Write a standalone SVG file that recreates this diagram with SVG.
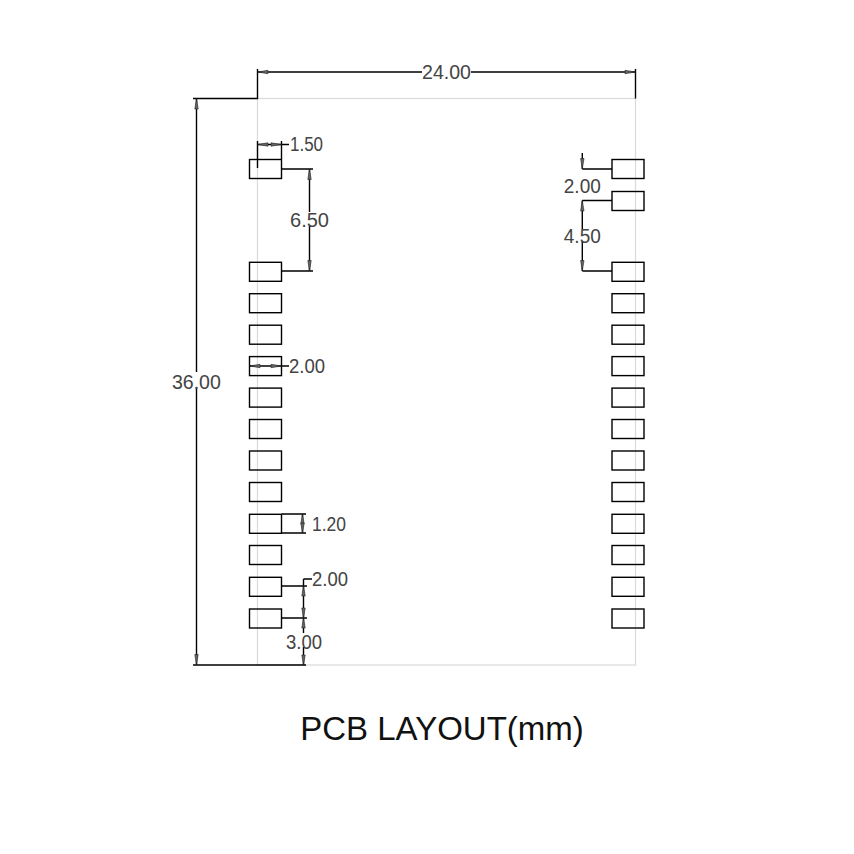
<svg xmlns="http://www.w3.org/2000/svg" width="854" height="854" viewBox="0 0 854 854">
<style>
.o{fill:none;stroke:#d9d9d9;stroke-width:1.2}
.p{fill:none;stroke:#000;stroke-width:1.4}
.l{fill:none;stroke:#000;stroke-width:1.4}
.h{fill:#666;stroke:#222;stroke-width:.6}
.d{font-family:"Liberation Sans",Arial,sans-serif;font-size:20px;fill:#444;text-anchor:middle}
.t{font-family:"Liberation Sans",Arial,sans-serif;font-size:33px;fill:#111;text-anchor:middle}
</style>
<defs>
<rect id="pad" width="32" height="19"/>
</defs>
<rect id="outline" class="o" x="257.5" y="98.5" width="378" height="566.5"/>
<g id="left-pads" class="p">
<use href="#pad" x="249.5" y="159.500"/>
<use href="#pad" x="249.5" y="262.300"/>
<use href="#pad" x="249.5" y="293.700"/>
<use href="#pad" x="249.5" y="325.200"/>
<use href="#pad" x="249.5" y="356.600"/>
<use href="#pad" x="249.5" y="388.100"/>
<use href="#pad" x="249.5" y="419.500"/>
<use href="#pad" x="249.5" y="451"/>
<use href="#pad" x="249.5" y="482.500"/>
<use href="#pad" x="249.5" y="514.300"/>
<use href="#pad" x="249.5" y="545.500"/>
<use href="#pad" x="249.5" y="577.300"/>
<use href="#pad" x="249.5" y="609"/>
</g>
<g id="right-pads" class="p">
<use href="#pad" x="612" y="159.500"/>
<use href="#pad" x="612" y="191.500"/>
<use href="#pad" x="612" y="262.300"/>
<use href="#pad" x="612" y="293.700"/>
<use href="#pad" x="612" y="325.200"/>
<use href="#pad" x="612" y="356.600"/>
<use href="#pad" x="612" y="388.100"/>
<use href="#pad" x="612" y="419.500"/>
<use href="#pad" x="612" y="451"/>
<use href="#pad" x="612" y="482.500"/>
<use href="#pad" x="612" y="514.300"/>
<use href="#pad" x="612" y="545.500"/>
<use href="#pad" x="612" y="577.300"/>
<use href="#pad" x="612" y="609"/>
</g>
<g id="connectors" class="l">
<path d="M257.500 69V98.500H193M635.500 69V98.500M193 665H306"/>
<path d="M257.500 72H422M471 72H635.500"/>
<path d="M196.500 98.500V372M196.500 387V665"/>
<path d="M257.500 141V168M281.500 141V159M257.500 144.500H289"/>
<path d="M281.500 169H313M281.500 271H313M309.500 169V212M309.500 226V271"/>
<path d="M582.300 153V169M582.300 169H612M582.300 200.500H612M582.300 271H612M582.300 200.500V229M582.300 241V271"/>
<path d="M249.500 366H289"/>
<path d="M281.500 514H306M281.500 533H306M302.500 514V533"/>
<path d="M281.500 586H307M281.500 618H307M303.500 579H312M303.500 579V633M303.500 647V665"/>
</g>
<g id="arrowheads" class="h">
<path d="M257.500 72L268 70.300V73.700Z"/>
<path d="M635.500 72L625 70.300V73.700Z"/>
<path d="M196.500 98.500L194.800 109H198.200Z"/>
<path d="M196.500 665L194.800 654.500H198.200Z"/>
<path d="M257.500 144.500L268 142.800V146.200Z"/>
<path d="M281.500 144.500L271 142.800V146.200Z"/>
<path d="M309.500 169L307.800 179.500H311.200Z"/>
<path d="M309.500 271L307.800 260.500H311.200Z"/>
<path d="M582.300 169L580.600 158.500H584Z"/>
<path d="M582.300 200.500L580.600 211H584Z"/>
<path d="M582.300 271L580.600 260.500H584Z"/>
<path d="M249.500 366L260 364.300V367.700Z"/>
<path d="M281.500 366L271 364.300V367.700Z"/>
<path d="M302.500 514L300.800 524H304.200Z"/>
<path d="M302.500 533L300.800 523H304.200Z"/>
<path d="M303.500 586L301.800 596H305.200Z"/>
<path d="M303.500 618L301.800 608H305.200Z"/>
<path d="M303.500 618L301.800 628H305.200Z"/>
<path d="M303.500 665L301.800 655H305.200Z"/>
</g>
<g id="labels">
<text class="d" x="446.500" y="79" textLength="49" lengthAdjust="spacingAndGlyphs">24.00</text>
<text class="d" x="306.500" y="151" textLength="33" lengthAdjust="spacingAndGlyphs">1.50</text>
<text class="d" x="309.500" y="227" textLength="39" lengthAdjust="spacingAndGlyphs">6.50</text>
<text class="d" x="582.300" y="193" textLength="37" lengthAdjust="spacingAndGlyphs">2.00</text>
<text class="d" x="582.300" y="242.500" textLength="37" lengthAdjust="spacingAndGlyphs">4.50</text>
<text class="d" x="307" y="372.500" textLength="36" lengthAdjust="spacingAndGlyphs">2.00</text>
<text class="d" x="196.400" y="389" textLength="49" lengthAdjust="spacingAndGlyphs">36.00</text>
<text class="d" x="329" y="531" textLength="34" lengthAdjust="spacingAndGlyphs">1.20</text>
<text class="d" x="330" y="586" textLength="36" lengthAdjust="spacingAndGlyphs">2.00</text>
<text class="d" x="304" y="648.500" textLength="36" lengthAdjust="spacingAndGlyphs">3.00</text>
<text class="t" x="442" y="740">PCB LAYOUT(mm)</text>
</g>
</svg>
